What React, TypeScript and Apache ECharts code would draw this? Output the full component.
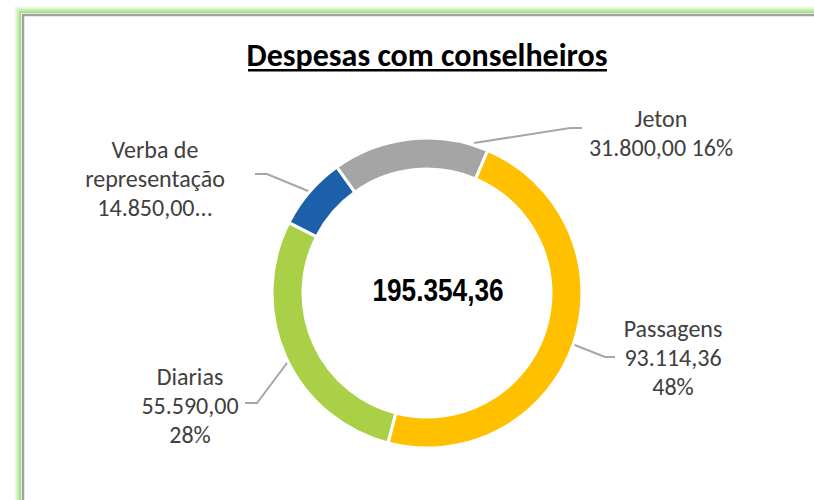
import React, { useEffect, useRef } from "react";
import * as echarts from "echarts";

const categories = ["Passagens", "Diarias", "Verba de representação", "Jeton"];
const values = [93114.36, 55590.0, 14850.0, 31800.0];
const colors = ["#FFC000", "#A9D047", "#1C5FAA", "#A5A5A5"];
const titleText = "Despesas com conselheiros";

// label blocks: centre of text block and leader line points (layout only)
const labelLayouts = [
  { x: 673, y: 357, line: [[557, 338], [605, 357], [615, 357]] },
  { x: 190, y: 405, line: [[302, 343], [257, 403], [245, 403]] },
  { x: 155, y: 178, line: [[325, 198], [267, 174], [255, 174]] },
  { x: 661, y: 133, line: [[474, 143], [570, 128], [582, 128]] },
];

function fmtBR(v: number): string {
  const fixed = v.toFixed(2);
  const [intPart, dec] = fixed.split(".");
  const withDots = intPart.replace(/\B(?=(\d{3})+(?!\d))/g, ".");
  return withDots + "," + dec;
}

const total = values.reduce((a, b) => a + b, 0);

export default function App() {
  const ref = useRef<HTMLDivElement>(null);
  useEffect(() => {
    if (!ref.current) return;
    const chart = echarts.init(ref.current, null, { renderer: "svg" });

    const glow: any[] = [];
    const glowAlphas = [0.9, 0.75, 0.6, 0.45, 0.3, 0.18, 0.08];
    glowAlphas.forEach((a, i) => {
      const off = 2 + i;
      glow.push({
        type: "rect",
        silent: true,
        shape: { x: 22.5 - off, y: 14.5 - off, width: 900, height: 700 },
        style: { fill: "none", stroke: `rgba(150,222,110,${a})`, lineWidth: 1 },
      });
    });

    const option: any = {
      animation: false,
      backgroundColor: "#ffffff",
      graphic: [
        ...glow,
        {
          type: "rect",
          silent: true,
          shape: { x: 23, y: 15, width: 900, height: 700 },
          style: { fill: "none", stroke: "#a3a3a3", lineWidth: 2.5 },
        },
        {
          type: "text",
          x: 427,
          y: 55,
          style: {
            text: titleText,
            fontFamily: "Carlito, Lato, sans-serif",
            fontWeight: "bold",
            fontSize: 32,
            fill: "#000000",
            align: "center",
            verticalAlign: "middle",
          },
        },
        {
          type: "rect",
          shape: { x: 248, y: 69, width: 359, height: 2.5 },
          style: { fill: "#000000" },
        },
        {
          type: "text",
          x: 438,
          y: 290,
          scaleX: 0.845,
          style: {
            text: fmtBR(total),
            fontFamily: "'Liberation Sans Narrow', 'Arial Narrow', 'Liberation Sans', sans-serif",
            fontWeight: "bold",
            fontSize: 31,
            fill: "#000000",
            align: "center",
            verticalAlign: "middle",
          },
        },
      ],
      series: [
        {
          type: "pie",
          center: [427, 293],
          radius: [124, 155],
          startAngle: 67,
          clockwise: true,
          avoidLabelOverlap: false,
          itemStyle: { borderColor: "#ffffff", borderWidth: 3 },
          label: {
            show: true,
            position: "outside",
            fontFamily: "Carlito, Lato, sans-serif",
            fontSize: 24,
            lineHeight: 29,
            color: "#404040",
            align: "center",
            formatter: (p: any) => {
              const pct = Math.round((p.value / total) * 100) + "%";
              const val = fmtBR(p.value);
              switch (p.dataIndex) {
                case 0:
                  return `${p.name}\n${val}\n${pct}`;
                case 1:
                  return `${p.name}\n${val}\n${pct}`;
                case 2:
                  return `Verba de\nrepresentação\n${val}...`;
                default:
                  return `${p.name}\n${val} ${pct}`;
              }
            },
          },
          labelLine: {
            show: true,
            lineStyle: { color: "#a6a6a6", width: 2 },
          },
          labelLayout: (params: any) => {
            const l = labelLayouts[params.dataIndex];
            return {
              x: l.x,
              y: l.y,
              align: "center",
              verticalAlign: "middle",
              labelLinePoints: l.line,
            };
          },
          data: categories.map((name, i) => ({
            name,
            value: values[i],
            itemStyle: { color: colors[i] },
          })),
        },
      ],
    };
    chart.setOption(option);
    return () => chart.dispose();
  }, []);
  return (
    <div
      ref={ref}
      style={{ position: "fixed", left: 0, top: 0, width: 814, height: 500, background: "#fff" }}
    />
  );
}
